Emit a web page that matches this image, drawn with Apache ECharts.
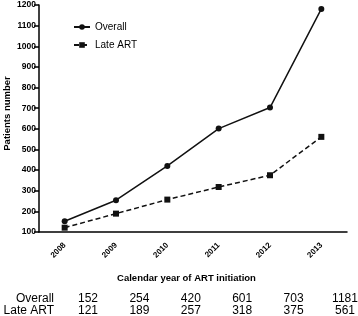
<!DOCTYPE html>
<html>
<head>
<meta charset="utf-8">
<script src="https://cdn.jsdelivr.net/npm/echarts@6/dist/echarts.min.js"></script>
<style>
  html,body{margin:0;padding:0;background:#fff;}
  #chart{width:358px;height:316px;}
</style>
</head>
<body>
<div id="chart"></div>
<script>
// values
const years = ['2008','2009','2010','2011','2012','2013'];
const overall = [152,254,420,601,703,1181];
const lateArt = [121,189,257,318,375,561];
const rowLabels = ['Overall','Late ART'];

const font = '"Liberation Sans", Arial, sans-serif';

const chart = echarts.init(document.getElementById('chart'), null, {renderer:'canvas'});

const option = {
    backgroundColor:'#fff',
    animation:false,
    textStyle:{fontFamily:font,color:'#000'},
    legend:{
        left:68,
        top:17,
        orient:'vertical',
        itemWidth:16,
        itemHeight:7,
        itemGap:8,
        textStyle:{fontSize:10,color:'#000',fontFamily:font},
        data:['Overall','Late ART']
    },
    grid:[
        {left:39,right:11,top:5,bottom:84,outerBoundsMode:'none',containLabel:false},
        {left:88,right:13,top:288,height:1,outerBoundsMode:'none',containLabel:false}
    ],
    xAxis:[
        {
            gridIndex:0,
            type:'category',
            data:years,
            boundaryGap:true,
            name:'Calendar year of ART initiation',
            nameLocation:'middle',
            nameGap:41,
            nameMoveOverlap:false,
            nameTextStyle:{fontSize:9.5,fontWeight:'bold',color:'#000',padding:[0,13,0,0]},
            axisLine:{lineStyle:{color:'#000',width:1.5}},
            axisTick:{alignWithLabel:true,length:5,lineStyle:{color:'#000',width:1.5}},
            axisLabel:{rotate:45,fontSize:8,fontWeight:'bold',color:'#000',margin:12,interval:0}
        },
        {
            gridIndex:1,
            type:'category',
            data:years,
            boundaryGap:false,
            axisLine:{show:false},
            axisTick:{show:false},
            axisLabel:{
                interval:0,
                fontSize:12,
                lineHeight:12.5,
                color:'#000',
                margin:3,
                formatter:(v,i)=>overall[i]+'\n'+lateArt[i]
            }
        }
    ],
    yAxis:[
        {
            gridIndex:0,
            type:'value',
            min:100,
            max:1200,
            interval:100,
            name:'Patients number',
            nameLocation:'middle',
            nameGap:27,
            nameMoveOverlap:false,
            nameTextStyle:{fontSize:9.5,fontWeight:'bold',color:'#000',padding:[0,0,0,10]},
            splitLine:{show:false},
            axisLine:{show:true,lineStyle:{color:'#000',width:1.5}},
            axisTick:{show:true,length:5,lineStyle:{color:'#000',width:1.5}},
            axisLabel:{fontSize:8.5,fontWeight:'bold',color:'#000',margin:3,formatter:v=>String(v)}
        },
        {gridIndex:1,type:'value',show:false}
    ],
    graphic:[{
        type:'text',
        x:54,
        y:292,
        style:{
            text:rowLabels.join('\n'),
            font:'12px '+font,
            lineHeight:12.5,
            fill:'#000',
            align:'right'
        }
    }],
    series:[
        {
            name:'Overall',
            type:'line',
            data:overall,
            symbol:'circle',
            symbolSize:6,
            itemStyle:{color:'#111'},
            lineStyle:{color:'#111',width:1.5,type:'solid'}
        },
        {
            name:'Late ART',
            type:'line',
            data:lateArt,
            symbol:'rect',
            symbolSize:6,
            itemStyle:{color:'#111'},
            lineStyle:{color:'#111',width:1.5,type:[5,3]}
        }
    ]
};
chart.setOption(option);
</script>
</body>
</html>
